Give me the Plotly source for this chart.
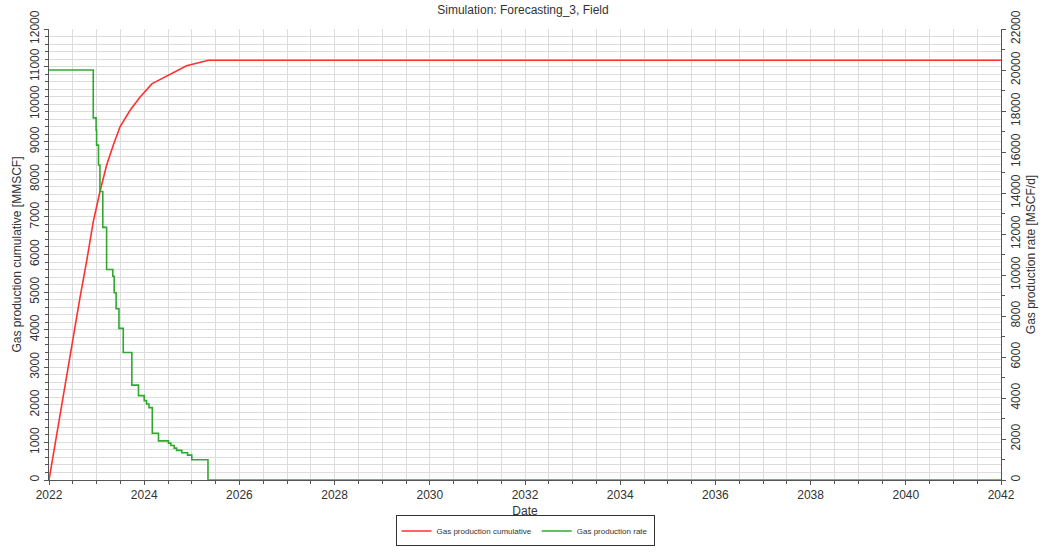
import plotly.graph_objects as go

# Cumulative gas production (MMSCF) vs decimal year
cum_years = [2022.0, 2022.37, 2022.65, 2022.79, 2022.93, 2023.07, 2023.21, 2023.35, 2023.49,
             2023.70, 2023.91, 2024.16, 2024.54, 2024.89, 2025.35, 2042.0]
cum_values = [0, 2815, 4845, 5817, 6876, 7670, 8375, 8905, 9390,
              9830, 10185, 10540, 10800, 11020, 11170, 11170]

# Gas production rate (MSCF/d), step changes at given decimal years
rate_years = [2022.0, 2022.93, 2022.99, 2023.00, 2023.04, 2023.07, 2023.13, 2023.21,
              2023.34, 2023.37, 2023.41, 2023.47, 2023.56, 2023.74, 2023.88, 2024.00,
              2024.05, 2024.10, 2024.17, 2024.30, 2024.51, 2024.56, 2024.63, 2024.68,
              2024.79, 2024.91, 2025.00, 2025.34, 2042.0]
rate_values = [20000, 17665, 17063, 16335, 15363, 14071, 12322, 10265,
               9941, 9131, 8354, 7398, 6217, 4629, 4114, 3871,
               3710, 3531, 2283, 1909, 1797, 1685, 1554, 1443,
               1328, 1214, 988, 0, 0]

fig = go.Figure()
fig.add_trace(go.Scatter(x=cum_years, y=cum_values, mode="lines",
                         name="Gas production cumulative",
                         line=dict(color="#ff3030", width=1.6)))
fig.add_trace(go.Scatter(x=rate_years, y=rate_values, mode="lines",
                         name="Gas production rate", yaxis="y2",
                         line=dict(color="#30a830", width=1.6, shape="hv")))

axis_font = dict(family="Liberation Sans, Arial", size=12, color="#333333")
fig.update_layout(
    width=1046, height=558,
    margin=dict(l=49, r=45, t=29, b=70),
    paper_bgcolor="white", plot_bgcolor="white",
    title=dict(text="Simulation: Forecasting_3, Field", x=0.5, xanchor="center",
               y=0.99, yanchor="top", pad=dict(t=0),
               font=dict(family="Liberation Sans, Arial", size=12, color="#333333")),
    font=dict(family="Liberation Sans, Arial", size=11, color="#333333"),
    xaxis=dict(range=[2022, 2042], dtick=2, tick0=2022, tickformat="d", automargin=False,
               showgrid=True, gridcolor="#dcdcdc", gridwidth=1,
               minor=dict(dtick=0.5, showgrid=True, gridcolor="#dcdcdc", ticks="outside",
                          ticklen=3, tickcolor="#555555"),
               ticks="outside", ticklen=4, tickcolor="#555555",
               showline=True, linecolor="#555555", linewidth=1,
               title=dict(text="Date", font=axis_font, standoff=5),
               tickfont=axis_font, zeroline=False),
    yaxis=dict(range=[0, 12000], dtick=1000, tickangle=-90, tickformat="d", automargin=False,
               showgrid=True, gridcolor="#dcdcdc", gridwidth=1,
               minor=dict(dtick=200, showgrid=True, gridcolor="#dcdcdc", ticks="outside",
                          ticklen=3, tickcolor="#555555"),
               ticks="outside", ticklen=4, tickcolor="#555555",
               showline=True, linecolor="#555555", linewidth=1,
               title=dict(text="Gas production cumulative [MMSCF]", font=axis_font, standoff=4),
               tickfont=axis_font, zeroline=False),
    yaxis2=dict(range=[0, 22000], dtick=2000, tickangle=-90, tickformat="d", automargin=False,
                overlaying="y", side="right",
                showgrid=False,
                minor=dict(dtick=1000, ticks="outside", ticklen=3, tickcolor="#555555"),
                ticks="outside", ticklen=4, tickcolor="#555555",
                showline=True, linecolor="#555555", linewidth=1,
                title=dict(text="Gas production rate [MSCF/d]", font=axis_font, standoff=4),
                tickfont=axis_font, zeroline=False),
    legend=dict(orientation="h", x=0.5, xanchor="center", y=-0.113, yanchor="middle",
                bordercolor="#333333", borderwidth=1, bgcolor="white",
                font=dict(family="Liberation Sans, Arial", size=8, color="#333333"),
                itemwidth=30),
    showlegend=True,
)

fig.write_html("out.html", config={"displayModeBar": False},
               post_script="document.body.style.margin='0';document.body.style.overflow='hidden';")
